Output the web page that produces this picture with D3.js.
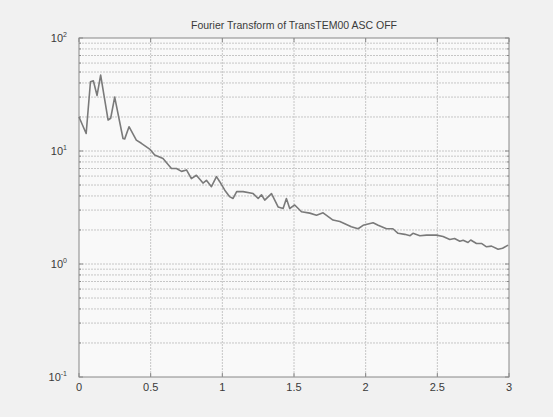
<!DOCTYPE html>
<html>
<head>
<style>
  body { margin: 0; background: #f1f1f1; }
  text { font-family: "Liberation Sans", Arial, sans-serif; fill: #3a3a3a; }
</style>
</head>
<body>
<div id="chart"></div>
<script src="https://cdn.jsdelivr.net/npm/d3@7"></script>
<script>
// frequency samples and spectrum magnitude
var freq = [0, 0.05, 0.08, 0.10, 0.126, 0.151, 0.203, 0.221, 0.249, 0.307, 0.319, 0.349, 0.40, 0.435, 0.493,
  0.528, 0.586, 0.645, 0.68, 0.715, 0.75, 0.784, 0.819, 0.865, 0.889, 0.924, 0.959, 0.982, 1.017,
  1.05, 1.075, 1.10, 1.145, 1.215, 1.25, 1.273, 1.296, 1.343, 1.389, 1.424, 1.447, 1.47, 1.505, 1.552,
  1.61, 1.657, 1.703, 1.772, 1.82, 1.90, 1.947, 1.982, 2.052, 2.087, 2.145, 2.19, 2.226, 2.273, 2.31,
  2.33, 2.378, 2.424, 2.494, 2.54, 2.587, 2.62, 2.657, 2.68, 2.714, 2.733, 2.773, 2.808, 2.843, 2.878,
  2.924, 2.955, 2.994];
var magnitude = [20, 14.3, 41, 41.8, 31, 47, 18.8, 19.5, 30, 12.9, 12.8, 16.4, 12.5, 11.7, 10.4,
  9.2, 8.6, 7.0, 7.0, 6.6, 6.8, 5.7, 6.1, 5.2, 5.5, 4.83, 5.93, 5.35, 4.5,
  3.95, 3.8, 4.37, 4.37, 4.2, 3.8, 4.1, 3.68, 4.2, 3.2, 3.1, 3.8, 3.1, 3.33, 2.9,
  2.82, 2.7, 2.84, 2.45, 2.38, 2.14, 2.05, 2.2, 2.32, 2.2, 2.05, 2.05, 1.87, 1.83, 1.78,
  1.87, 1.78, 1.80, 1.80, 1.75, 1.65, 1.68, 1.59, 1.62, 1.55, 1.63, 1.52, 1.52, 1.42, 1.44,
  1.35, 1.38, 1.47];
var xTicks = [0, 0.5, 1, 1.5, 2, 2.5, 3];
var xTickLabels = ["0", "0.5", "1", "1.5", "2", "2.5", "3"];
var yExponents = [-1, 0, 1, 2];
var title = "Fourier Transform of TransTEM00 ASC OFF";

var width = 553, height = 417;
var margin = {top: 38, right: 44, bottom: 40, left: 79};

var svg = d3.select("#chart").append("svg")
    .attr("width", width)
    .attr("height", height);

var x = d3.scaleLinear().domain([0, 3]).range([margin.left, width - margin.right]);
var y = d3.scaleLog().domain([0.1, 100]).range([height - margin.bottom, margin.top]);

// plot background
svg.append("rect")
    .attr("x", x(0)).attr("y", y(100))
    .attr("width", x(3) - x(0)).attr("height", y(0.1) - y(100))
    .attr("fill", "#f9f9f9");

// minor + major horizontal grid (every 1..9 of each decade)
var yGrid = [];
yExponents.slice(0, 3).forEach(function (e) {
    for (var m = 1; m <= 9; m++) yGrid.push(m * Math.pow(10, e));
});
yGrid.push(100);

svg.append("g").selectAll("line")
    .data(yGrid.filter(function (v) { return v > 0.1 && v < 100; }))
    .enter().append("line")
        .attr("x1", x(0)).attr("x2", x(3))
        .attr("y1", d => y(d)).attr("y2", d => y(d))
        .attr("stroke", "#c6c6c6")
        .attr("stroke-width", 1)
        .attr("stroke-dasharray", "2,1");

// vertical grid
svg.append("g").selectAll("line")
    .data(xTicks.slice(1, -1))
    .enter().append("line")
        .attr("x1", d => x(d)).attr("x2", d => x(d))
        .attr("y1", y(100)).attr("y2", y(0.1))
        .attr("stroke", "#c6c6c6")
        .attr("stroke-width", 1)
        .attr("stroke-dasharray", "2,1");

// box
svg.append("rect")
    .attr("x", x(0)).attr("y", y(100))
    .attr("width", x(3) - x(0)).attr("height", y(0.1) - y(100))
    .attr("fill", "none")
    .attr("stroke", "#888")
    .attr("stroke-width", 1);

// ticks (inside, top and bottom / left and right)
var tickG = svg.append("g").attr("stroke", "#888").attr("stroke-width", 1);
xTicks.forEach(function (t) {
    tickG.append("line").attr("x1", x(t)).attr("x2", x(t)).attr("y1", y(0.1)).attr("y2", y(0.1) - 4);
    tickG.append("line").attr("x1", x(t)).attr("x2", x(t)).attr("y1", y(100)).attr("y2", y(100) + 4);
});
yGrid.forEach(function (v) {
    var len = Math.abs(Math.log10(v) - Math.round(Math.log10(v))) < 1e-9 ? 4 : 2;
    tickG.append("line").attr("x1", x(0)).attr("x2", x(0) + len).attr("y1", y(v)).attr("y2", y(v));
    tickG.append("line").attr("x1", x(3)).attr("x2", x(3) - len).attr("y1", y(v)).attr("y2", y(v));
});

// x tick labels
svg.append("g").selectAll("text")
    .data(xTicks)
    .enter().append("text")
        .attr("x", d => x(d))
        .attr("y", y(0.1) + 14)
        .attr("text-anchor", "middle")
        .attr("font-size", "11px")
        .text((d, i) => xTickLabels[i]);

// y tick labels, 10^e
var yl = svg.append("g").selectAll("text")
    .data(yExponents)
    .enter().append("text")
        .attr("x", x(0) - 12)
        .attr("y", d => y(Math.pow(10, d)) + 4)
        .attr("text-anchor", "end")
        .attr("font-size", "11px");
yl.append("tspan").text("10");
yl.append("tspan")
    .attr("dy", -5)
    .attr("font-size", "7px")
    .text(d => d);

// spectrum line
var line = d3.line()
    .x((d, i) => x(freq[i]))
    .y(d => y(d));

svg.append("path")
    .datum(magnitude)
    .attr("d", line)
    .attr("fill", "none")
    .attr("stroke", "#7a7a7a")
    .attr("stroke-width", 1.6)
    .attr("stroke-linejoin", "round");

// title
svg.append("text")
    .attr("x", (x(0) + x(3)) / 2)
    .attr("y", 29)
    .attr("text-anchor", "middle")
    .attr("font-size", "10.5px")
    .text(title);
</script>
</body>
</html>
